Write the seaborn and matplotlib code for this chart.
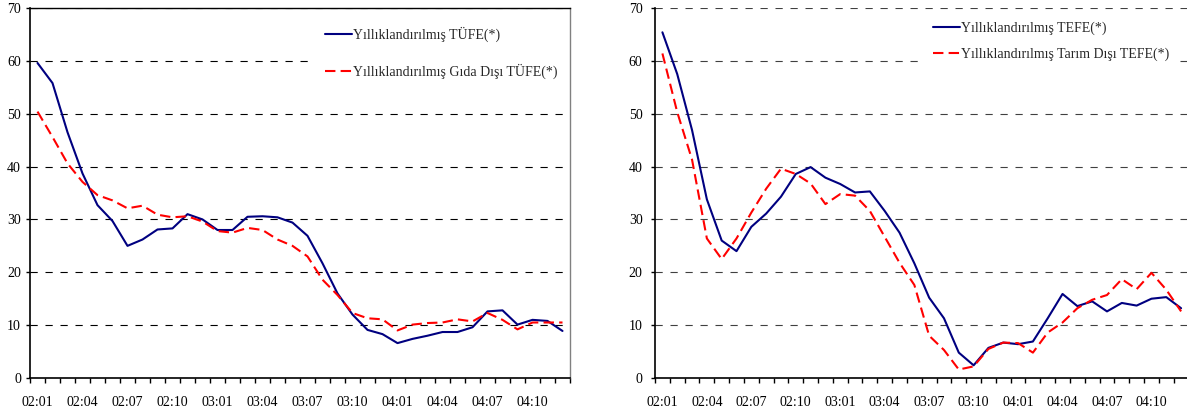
import pandas as pd
import matplotlib
matplotlib.use("Agg")
import matplotlib.pyplot as plt
import seaborn as sns

# month labels (yy:mm) and the ones shown on the axis
months = ["02:01", "02:02", "02:03", "02:04", "02:05", "02:06", "02:07", "02:08", "02:09",
          "02:10", "02:11", "02:12", "03:01", "03:02", "03:03", "03:04", "03:05", "03:06",
          "03:07", "03:08", "03:09", "03:10", "03:11", "03:12", "04:01", "04:02", "04:03",
          "04:04", "04:05", "04:06", "04:07", "04:08", "04:09", "04:10", "04:11", "04:12"]
tick_labels = ["02:01", "02:04", "02:07", "02:10", "03:01", "03:04",
               "03:07", "03:10", "04:01", "04:04", "04:07", "04:10"]

# left panel
tufe = [59.6, 55.8, 46.5, 38.7, 32.7, 29.7, 25.0, 26.2, 28.1, 28.3, 31.0, 30.0,
        28.0, 28.0, 30.5, 30.6, 30.4, 29.4, 26.9, 21.7, 16.0, 12.0, 9.1, 8.3,
        6.6, 7.4, 8.0, 8.7, 8.7, 9.6, 12.6, 12.8, 10.1, 11.0, 10.8, 8.9]
tufe_gida_disi = [50.4, 45.6, 40.6, 37.1, 34.6, 33.6, 32.1, 32.6, 30.9, 30.4, 30.6, 29.6,
                  27.8, 27.5, 28.4, 28.0, 26.2, 25.0, 23.0, 18.6, 15.7, 12.3, 11.3, 11.1,
                  9.0, 10.1, 10.4, 10.5, 11.1, 10.7, 12.3, 11.0, 9.2, 10.5, 10.5, 10.5]
# right panel
tefe = [65.4, 57.5, 46.9, 33.8, 26.0, 24.0, 28.6, 31.1, 34.3, 38.6, 39.9, 37.9,
        36.7, 35.1, 35.3, 31.6, 27.5, 21.7, 15.2, 11.3, 4.8, 2.4, 5.7, 6.7,
        6.4, 6.9, 11.3, 15.9, 13.6, 14.5, 12.6, 14.2, 13.7, 15.0, 15.3, 13.2]
tefe_tarim_disi = [61.4, 50.3, 41.3, 26.4, 22.5, 26.4, 31.3, 35.8, 39.6, 38.6, 36.8, 32.9,
                   34.8, 34.5, 31.6, 26.7, 21.8, 17.6, 8.0, 5.3, 1.6, 2.2, 5.5, 6.7,
                   6.6, 4.8, 8.6, 10.5, 13.2, 14.8, 15.7, 18.7, 16.8, 19.9, 16.7, 12.6]

left_labels = ["Yıllıklandırılmış TÜFE(*)", "Yıllıklandırılmış Gıda Dışı TÜFE(*)"]
right_labels = ["Yıllıklandırılmış TEFE(*)", "Yıllıklandırılmış Tarım Dışı TEFE(*)"]

sns.set_style("white")
plt.rcParams['font.family'] = ['Liberation Serif', 'DejaVu Serif']

df = pd.DataFrame({"month": months, "tufe": tufe, "tufe_gd": tufe_gida_disi,
                   "tefe": tefe, "tefe_td": tefe_tarim_disi})
df["pos"] = range(len(df))  # category position on the axis

fig = plt.figure(figsize=(11.87, 4.15), dpi=100)
ax1 = fig.add_axes([30 / 1187, 37 / 415, 540 / 1187, 370 / 415])
ax2 = fig.add_axes([655 / 1187, 37 / 415, 533.5 / 1187, 370 / 415])


def style_axis(ax, grid_color, ypad):
    ax.set_xlim(-0.5, len(months) - 0.5)
    ax.set_ylim(0, 70)
    ax.set_yticks(range(0, 71, 10))
    ax.set_xticks([months.index(t) for t in tick_labels])
    ax.set_xticklabels(tick_labels)
    ax.set_xticks([i - 0.5 for i in range(len(months) + 1)], minor=True)
    ax.tick_params(axis="x", which="major", length=0, pad=13, labelsize=10, colors="black")
    ax.tick_params(axis="x", which="minor", length=3.6, width=1, direction="out", bottom=True, color="black")
    ax.tick_params(axis="y", which="major", length=3, width=1, direction="out", left=True,
                   pad=ypad, labelsize=10, colors="black")
    ax.grid(axis="y", color=grid_color, linewidth=0.8, linestyle=(0, (6.5, 7)))
    ax.grid(axis="x", visible=False)
    ax.set_xlabel("")
    ax.set_ylabel("")
    for s in ["left", "bottom"]:
        ax.spines[s].set_color("black")
        ax.spines[s].set_linewidth(1.2)


# left chart
sns.lineplot(data=df, x="pos", y="tufe", ax=ax1, color="#000080", linewidth=1.5, label=left_labels[0])
sns.lineplot(data=df, x="pos", y="tufe_gd", ax=ax1, color="#FF0000", linewidth=1.5, label=left_labels[1])
ax1.lines[1].set_dashes((5, 2.5))
style_axis(ax1, "black", 3.5)
ax1.spines["top"].set_color("black")
ax1.spines["top"].set_linewidth(1.0)
ax1.spines["right"].set_color("#808080")
ax1.spines["right"].set_linewidth(1.0)
leg1 = ax1.legend(loc="upper left", bbox_to_anchor=(0.528, 0.976), frameon=True, fancybox=False,
                  edgecolor="none", facecolor="white", framealpha=1, fontsize=10,
                  handlelength=1.95, handletextpad=0.1, borderpad=0.7, labelspacing=1.6,
                  borderaxespad=0)

# right chart
sns.lineplot(data=df, x="pos", y="tefe", ax=ax2, color="#000080", linewidth=1.5, label=right_labels[0])
sns.lineplot(data=df, x="pos", y="tefe_td", ax=ax2, color="#FF0000", linewidth=1.5, label=right_labels[1])
ax2.lines[1].set_dashes((5, 2.5))
style_axis(ax2, "#404040", 6)
ax2.spines["top"].set_visible(False)
ax2.spines["right"].set_visible(False)
leg2 = ax2.legend(loc="upper left", bbox_to_anchor=(0.502, 0.99), frameon=True, fancybox=False,
                  edgecolor="none", facecolor="white", framealpha=1, fontsize=10,
                  handlelength=1.95, handletextpad=0.1, borderpad=0.7, labelspacing=0.9,
                  borderaxespad=0)

fig.savefig("out.png", dpi=100)
